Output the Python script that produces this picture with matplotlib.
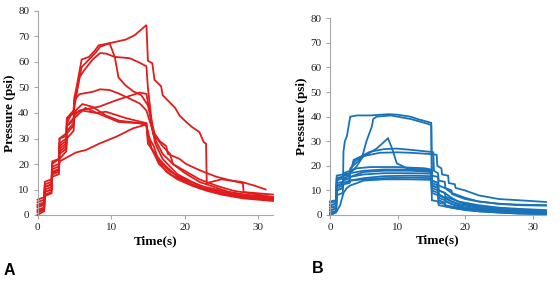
import matplotlib
matplotlib.use("Agg")
import matplotlib.pyplot as plt

# ---------------- Panel A data (red) ----------------
a1_t = [0, 0.9, 1, 1.9, 2, 2.9, 3, 3.9, 4, 4.9, 5, 5.3, 6, 7, 7.8, 8.3, 10, 12, 13.2, 14.8, 15, 15.6, 15.9, 16.8, 17, 18.7, 19.3, 20.2, 21, 22, 22.6, 22.9, 23, 25, 27.7, 29.5, 31]
a1_p = [3, 4, 12, 13, 20, 22, 30, 32, 38, 40, 46, 50, 61, 62, 64.5, 66.5, 67.5, 68.8, 70.5, 74.5, 60.5, 59.5, 53, 50.5, 47, 42, 39, 36.5, 34.5, 32.5, 28.5, 28, 12.5, 14, 13, 11.5, 10]
a2_t = [0, 0.9, 1, 1.9, 2, 2.9, 3, 3.9, 4, 4.9, 5, 5.3, 6, 7, 8, 8.5, 9.8, 10.5, 11, 11.9, 13, 14.1, 15, 15.9, 16.6, 17.5, 17.7, 19.3, 20.2, 22, 24.3, 26.6, 27.9, 28, 30, 32]
a2_p = [5, 6, 10, 11, 17, 18, 26, 28, 35, 38, 44, 48, 58, 61, 64, 66, 67.3, 62, 54, 51, 48.5, 47, 43, 32, 29, 27, 24, 22, 20, 17.6, 15, 13.3, 12.5, 9, 8.5, 8]
a3_t = [0, 0.9, 1, 1.9, 2, 2.9, 3, 3.9, 4, 4.9, 5, 5.7, 6.4, 7.5, 8.5, 9.3, 10.5, 12.5, 13.9, 14.8, 15, 15.7, 17, 18, 18.4, 20.2, 22, 24.3, 26.6, 30, 32]
a3_p = [2, 3, 9, 10, 16, 17, 25, 27, 33, 36, 42, 54, 57, 61, 63.5, 63.3, 62, 61.5, 59.7, 58.3, 50, 32, 27, 24, 20, 17, 14, 11.5, 9.5, 8, 7]
a4_t = [0, 0.9, 1, 1.9, 2, 2.9, 3, 3.9, 4, 4.9, 5, 5.7, 7.5, 8.5, 9.8, 11, 13, 13.9, 14.8, 15.5, 16.1, 17, 18.4, 20, 22, 24, 26, 29, 32]
a4_p = [6, 7, 13, 14, 21, 22, 30, 31, 38, 41, 45, 47.4, 48.3, 49.3, 49, 47.7, 45, 43.7, 41, 34.5, 29, 24, 20, 16.5, 13, 11, 9, 7.5, 6.5]
a5_t = [0, 0.9, 1, 1.9, 2, 2.9, 3, 3.9, 4, 4.9, 5, 5.7, 8.4, 10.7, 13.9, 14.8, 15.2, 15.5, 16, 17, 18, 19, 21, 23, 25, 28, 32]
a5_p = [1, 2, 8, 9, 16, 17, 24, 26, 32, 35, 39, 41, 42.5, 45, 48, 47.5, 41, 35, 28, 22, 19, 16, 13, 10.5, 9, 7.5, 6]
a6_t = [0, 0.9, 1, 1.9, 2, 2.9, 3, 3.9, 4, 4.5, 5.7, 6.1, 7.5, 9.3, 11.1, 13.9, 14.8, 15, 15.5, 16.5, 17.5, 19, 21, 23, 25, 28, 32]
a6_p = [4, 5, 11, 12, 19, 20, 28, 30, 36, 39, 42.4, 43.5, 42.4, 39, 37, 36, 35, 33, 26, 22, 19, 15, 12, 10, 8.5, 7, 6]
a7_t = [0, 0.9, 1, 1.9, 2, 2.9, 3, 3.9, 4, 4.9, 5, 6.5, 8.5, 11, 14.8, 15, 15.8, 16.5, 17.5, 19, 21, 23, 25, 28, 32]
a7_p = [0, 1.5, 7.5, 8.5, 15, 16, 22, 25, 30, 33, 38, 42, 39.5, 36.5, 35.8, 31, 27, 21, 17, 14, 11.5, 9.5, 8, 6.5, 5.5]
a8_t = [0, 0.9, 1, 1.9, 2, 2.9, 3, 5.2, 6.6, 8.4, 10.7, 13, 14.8, 15, 15.5, 16.5, 18, 20, 22, 25, 28, 32]
a8_p = [3.5, 4.5, 11, 12, 18, 19, 21, 24.5, 25.5, 28, 30.7, 34, 35.5, 30, 26, 20, 16, 13, 10.5, 8.5, 7, 6]
a9_t = [0, 0.9, 1, 1.9, 2, 2.9, 3, 3.9, 4, 4.9, 5, 6, 8, 9.3, 12, 14.8, 15, 16, 17, 18, 20, 22, 25, 28, 32]
a9_p = [1.5, 2.5, 9, 10, 16.5, 18, 27, 29, 35, 37, 40, 41, 40, 40.5, 38, 36, 28, 24, 20, 17, 14, 11.5, 9.5, 8, 7]

# ---------------- Panel B data (blue) ----------------
b1_t = [0, 0.9, 1, 1.9, 2, 2.2, 2.5, 3, 4, 6, 8.6, 10, 11.9, 13, 14.6, 15, 15.1, 16, 16.1, 17, 17.1, 18, 19, 20, 22, 25, 28, 32]
b1_p = [1, 1.5, 8, 9, 26, 30, 32, 40, 40.5, 40.5, 41, 40.8, 40, 39, 37.8, 37.5, 12, 11, 8, 7, 5.5, 4.5, 3.5, 3, 2.2, 1.6, 1.2, 1]
b2_t = [0, 0.9, 1, 1.9, 2, 2.9, 3, 4, 4.7, 5.4, 6.2, 6.4, 6.9, 9, 12, 14.6, 15, 15.1, 16, 16.1, 17, 18, 19, 20, 22, 25, 28, 32]
b2_p = [3, 3.5, 12, 13, 15, 16, 17, 20, 23, 30, 36, 39, 40, 40.5, 39, 37, 36.5, 14, 13, 10, 9, 7, 5.5, 4.5, 3.5, 2.5, 2, 1.5]
b3_t = [0, 0.9, 1, 1.9, 2, 2.9, 3, 4.9, 6.9, 8.6, 9.2, 9.9, 11.4, 13, 15, 15.1, 16, 16.1, 17, 18, 19, 20, 22, 25, 28, 32]
b3_p = [2, 2.5, 11, 12, 14, 15, 19, 23.7, 27, 31.2, 27, 21, 19, 18.5, 18, 12, 11, 8, 7, 5.5, 4.5, 3.8, 3, 2.2, 1.8, 1.2]
b4_t = [0, 0.9, 1, 1.9, 2, 2.9, 3, 3.5, 4.5, 5.9, 8, 9.9, 12, 14.8, 15.3, 15.4, 16, 16.1, 17, 17.1, 18, 18.1, 19, 20, 22, 25, 28, 32]
b4_p = [4, 4.5, 14, 15, 16, 16.5, 17, 22.4, 23.7, 25.7, 26.8, 27, 26.5, 25.7, 25.5, 18, 17, 14, 13.5, 11, 10, 8.5, 7.5, 6.5, 5.5, 4.5, 4, 3.8]
b5_t = [0, 0.9, 1, 1.9, 2, 2.9, 3, 3.7, 5, 7.4, 10, 12, 14.8, 15.8, 15.9, 16.5, 16.6, 17.5, 17.6, 18.5, 18.6, 20, 22, 25, 28, 32]
b5_p = [5, 5.5, 15, 15.5, 16.5, 17, 18, 22, 24, 25.3, 25.5, 25.3, 24.8, 24.5, 20, 19, 16.5, 16, 13, 12.5, 11, 10, 8, 6.5, 6, 5.3]
b6_t = [0, 0.9, 1, 1.9, 2, 3, 4, 6, 10, 14, 15, 15.1, 16, 16.1, 17, 18, 19, 20, 22, 25, 28, 32]
b6_p = [5.5, 6, 16, 16.5, 17, 18, 19, 19.5, 19.5, 19, 18.5, 16, 15.5, 12, 11, 9, 8, 7, 5.5, 4.6, 4.2, 4]
b7_t = [0, 0.9, 1, 1.9, 2, 2.9, 3, 4, 5, 8, 12, 15, 15.1, 16, 16.1, 17, 17.1, 18, 19, 20, 22, 25, 28, 32]
b7_p = [0.5, 1, 10, 11, 13, 14, 15.5, 16.5, 17.5, 18, 18, 17.5, 10, 9, 6, 5, 4, 3.5, 3, 2.5, 1.8, 1.2, 0.8, 0.5]
b8_t = [0, 0.9, 1, 1.9, 2, 2.9, 3, 5, 8, 12, 15, 15.1, 16, 16.1, 17, 18, 19, 20, 22, 25, 28, 32]
b8_p = [2, 2.5, 13, 13.5, 14.5, 15, 15.5, 16.5, 17, 17, 16.8, 13, 12, 8.5, 7, 5.5, 4.5, 4, 3, 2.2, 1.8, 1.5]
b9_t = [0, 0.9, 1, 1.9, 2, 2.9, 3, 5, 8, 12, 15, 15.1, 16, 16.1, 17, 17.1, 18, 19, 20, 22, 25, 28, 32]
b9_p = [1, 1.5, 10, 11, 12.5, 13, 14, 15, 15.8, 16, 15.8, 9, 8, 5, 4.5, 3.5, 3, 2.5, 2.2, 1.5, 1, 0.6, 0.4]
b10_t = [0, 0.9, 1, 1.9, 2, 2.9, 3, 5, 8, 12, 15, 15.1, 16, 16.1, 17, 18, 19, 20, 22, 25, 28, 32]
b10_p = [3, 3.5, 12, 12.5, 13, 13.5, 14, 14.5, 15, 15.2, 15, 11, 10, 7, 6, 4.5, 3.8, 3, 2.5, 1.8, 1.3, 1]
b11_t = [0, 0.5, 1, 1.5, 2, 2.5, 3, 4, 5, 8, 12, 15, 15.1, 16, 16.1, 17, 18, 19, 20, 22, 25, 28, 32]
b11_p = [0, 0.5, 1.5, 4, 9, 11, 12, 13, 14, 14.5, 14.5, 14.3, 6, 5.5, 4, 3.5, 3, 2.5, 2, 1.5, 1, 0.6, 0.4]
b12_t = [0, 0.9, 1, 1.9, 2, 2.9, 3, 5, 8, 12, 15, 15.1, 16, 16.1, 17, 17.1, 18, 19, 20, 22, 25, 28, 32]
b12_p = [4, 4.5, 15, 15.5, 16, 16.5, 17, 18, 18.5, 18.5, 18.2, 14, 13, 10, 9, 7.5, 6.5, 5.5, 5, 4, 3, 2.5, 2]

x_ticks = [0, 10, 20, 30]
y_ticks = [0, 10, 20, 30, 40, 50, 60, 70, 80]

series_a = [(a1_t, a1_p), (a2_t, a2_p), (a3_t, a3_p), (a4_t, a4_p), (a5_t, a5_p),
            (a6_t, a6_p), (a7_t, a7_p), (a8_t, a8_p), (a9_t, a9_p)]
series_b = [(b1_t, b1_p), (b2_t, b2_p), (b3_t, b3_p), (b4_t, b4_p), (b5_t, b5_p),
            (b6_t, b6_p), (b7_t, b7_p), (b8_t, b8_p), (b9_t, b9_p), (b10_t, b10_p),
            (b11_t, b11_p), (b12_t, b12_p)]

RED = "#e01c1c"
BLUE = "#1a72b8"
GRAY = "#a6a6a6"
SERIF = "Liberation Serif"

fig = plt.figure(figsize=(5.6, 2.83), dpi=100)
axA = fig.add_axes([37.5 / 560, 68 / 283, 235.5 / 560, 204 / 283])
axB = fig.add_axes([330 / 560, 68 / 283, 216 / 560, 196.7 / 283])

for ax, series, color in [(axA, series_a, RED), (axB, series_b, BLUE)]:
    for t, p in series:
        ax.plot(t, p, color=color, lw=1.3, solid_joinstyle="miter", clip_on=False)
    ax.set_xlim(0, 32)
    ax.set_ylim(0, 80)
    ax.set_xticks(x_ticks)
    ax.set_yticks(y_ticks)
    for s in ["top", "right"]:
        ax.spines[s].set_visible(False)
    for s in ["left", "bottom"]:
        ax.spines[s].set_color(GRAY)
        ax.spines[s].set_linewidth(0.8)
    ax.tick_params(direction="out", length=3, width=0.8, color=GRAY,
                   labelsize=8, labelcolor="#222222", pad=3)
    for lab in ax.get_xticklabels() + ax.get_yticklabels():
        lab.set_family(SERIF)
    ax.set_xlabel("Time(s)", fontsize=9.5, fontweight="bold", family=SERIF)
    ax.set_ylabel("Pressure (psi)", fontsize=9.5, fontweight="bold", family=SERIF)

axA.xaxis.set_label_coords(0.5, -0.10)
axB.xaxis.set_label_coords(0.5, -0.10)
axA.yaxis.set_label_coords(-0.09, 0.5)
axB.yaxis.set_label_coords(-0.10, 0.5)

fig.text(4 / 560, 8 / 283, "A", fontsize=11.5, fontweight="bold", family="Liberation Sans")
fig.text(312 / 560, 10 / 283, "B", fontsize=11.5, fontweight="bold", family="Liberation Sans")

fig.savefig("out.png", dpi=100)
